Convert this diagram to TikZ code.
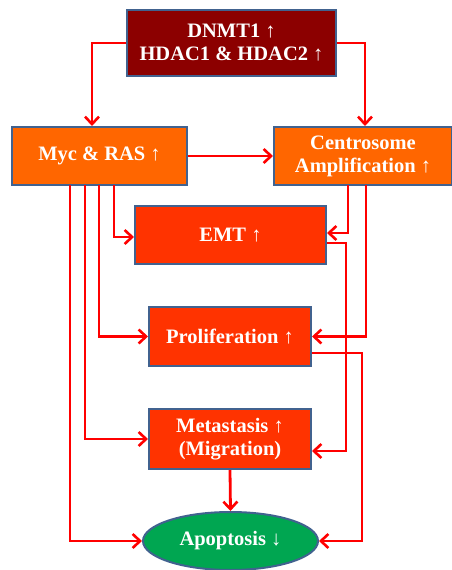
\documentclass[tikz,border=0pt]{standalone}
\usepackage{fontspec}
\setmainfont{Liberation Serif}
\usetikzlibrary{arrows.meta,shapes.geometric}
\definecolor{boxline}{RGB}{65,98,143}
\definecolor{darkred}{RGB}{140,0,0}
\definecolor{orangebox}{RGB}{255,102,0}
\definecolor{redbox}{RGB}{255,51,0}
\definecolor{greenbox}{RGB}{0,166,81}
\begin{document}
\begin{tikzpicture}[x=1pt,y=-1pt,
  box/.style={draw=boxline,line width=2pt,text=white,align=center,
    font=\fontsize{20.5}{23}\selectfont\bfseries,inner sep=0pt},
  arr/.style={draw=red,line width=2.8pt,-{Straight Barb[length=7.5pt,width=14pt,line width=2.6pt]}}]
\useasboundingbox (0,0) rectangle (451,570);

\node[box,fill=darkred,minimum width=209pt,minimum height=66pt] (dnmt) at (231.5,43) {DNMT1 ↑\\HDAC1 \& HDAC2 ↑};
\node[box,fill=orangebox,minimum width=175pt,minimum height=58pt] (myc) at (99.5,156) {Myc \& RAS ↑};
\node[box,fill=orangebox,minimum width=178pt,minimum height=58pt] (centro) at (363,156) {Centrosome\\Amplification ↑};
\node[box,fill=redbox,minimum width=191pt,minimum height=58pt] (emt) at (230.5,235) {EMT ↑};
\node[box,fill=redbox,minimum width=162pt,minimum height=59pt] (prolif) at (230,336.5) {Proliferation ↑};
\node[box,fill=redbox,minimum width=162pt,minimum height=60pt] (meta) at (230,439) {Metastasis ↑\\(Migration)};
\node[box,ellipse,fill=greenbox,minimum width=175pt,minimum height=58pt] (apop) at (230.5,541) {Apoptosis ↓};

\coordinate (m1) at (70,185);
\coordinate (m2) at (85,185);
\coordinate (m3) at (99,185);
\coordinate (m4) at (114,185);
\coordinate (c1) at (348,185);
\coordinate (c2) at (366,185);

\draw[arr] (dnmt.west) -| ([xshift=-7.5pt]myc.north);
\draw[arr] (dnmt.east) -| ([xshift=2pt]centro.north);
\draw[arr] (myc.east) -- (centro.west);
\draw[arr] (m4) |- ([yshift=-2pt]emt.west);
\draw[arr] (m3) |- (prolif.west);
\draw[arr] (m2) |- (meta.west);
\draw[arr] (m1) |- (apop.west);
\draw[arr] (c1) |- ([yshift=2pt]emt.east);
\draw[arr] (c2) |- (prolif.east);
\draw[arr] ([yshift=-8pt]emt.east) -- ++(19,0) |- ([yshift=-12pt]meta.east);
\draw[arr] ([yshift=-16.5pt]prolif.east) -- ++(50,0) |- (apop.east);
\draw[arr] (meta.south) -- (apop.north);
\end{tikzpicture}
\end{document}
